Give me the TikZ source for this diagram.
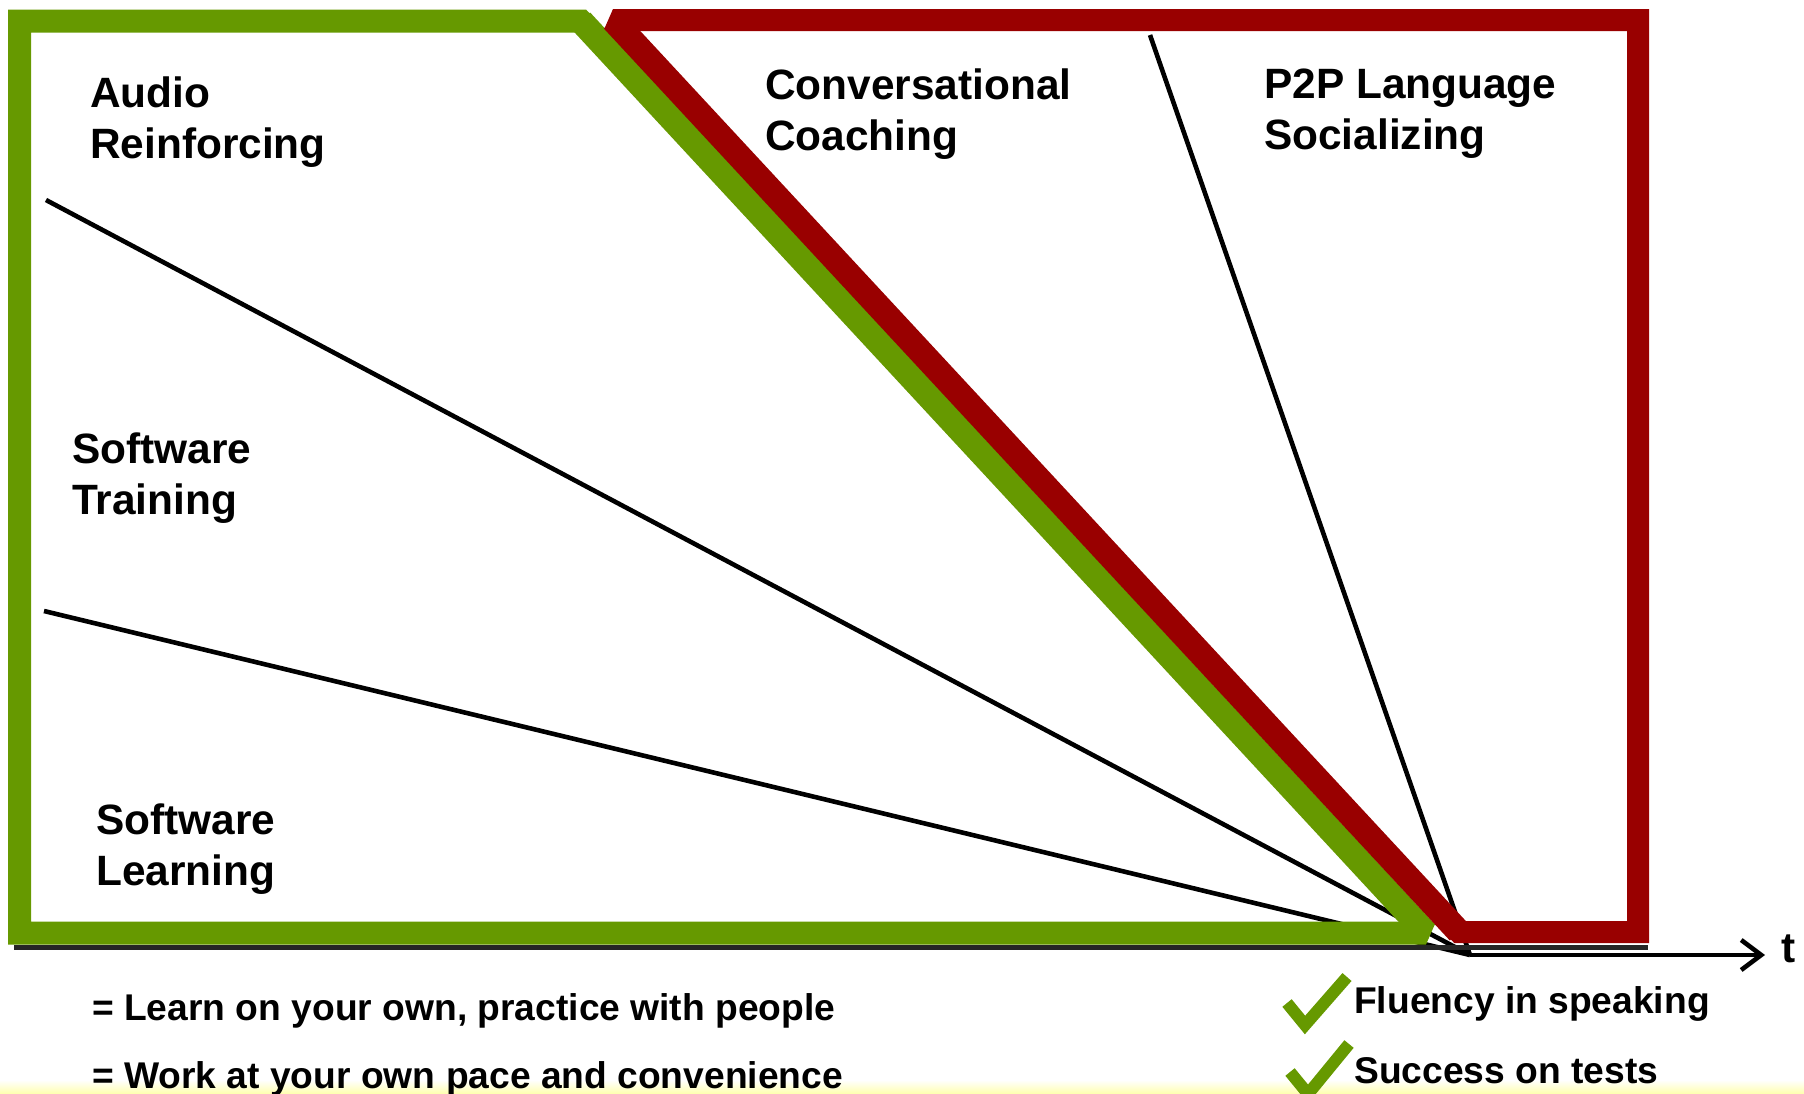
\documentclass[tikz,border=0pt]{standalone}
\usepackage{fontspec}
\setmainfont{Liberation Sans}
\usetikzlibrary{arrows.meta}
\definecolor{lgreen}{RGB}{102,153,0}
\definecolor{lred}{RGB}{153,0,0}
\begin{document}
\begin{tikzpicture}[x=1pt,y=-1pt,
  big/.style={font=\fontsize{42.4}{51}\selectfont\bfseries, inner sep=0pt, align=left, anchor=north west},
  small/.style={font=\fontsize{37.2}{44}\selectfont\bfseries, inner sep=0pt, anchor=base west},
  greenbar/.style={draw=lgreen, line width=23pt, line join=miter, miter limit=2},
  redbar/.style={draw=lred, line width=22pt, line join=miter, miter limit=2},
  ray/.style={draw=black, line width=4.6pt},
  shadowline/.style={draw=black!85, line width=5pt},
  axisline/.style={draw=black, line width=4.6pt, -{Straight Barb[length=20pt,width=30pt,line width=4.6pt]}},
  tick/.style={draw=lgreen, line width=12pt, line join=miter}]
\useasboundingbox (0,0) rectangle (1804,1093);
\shade[top color=white, bottom color=yellow!30] (0,1080) rectangle (1804,1093);
% rays
\coordinate (O) at (1470,955);
\coordinate (r1) at (46,200);
\coordinate (r2) at (44,611);
\coordinate (r3) at (1150,35);
\coordinate (tend) at (1765,955);
\draw[ray] (r1) -- (O);
\draw[ray] (r2) -- (O);
\draw[ray] (r3) -- (O);
% shadow under frames
\draw[shadowline] (14,947) -- (1648,947);
% frames
\draw[greenbar, line width=25pt] (581,21) -- (1426,933);
\draw[greenbar] (1426,933) -- (19.5,933) -- (19.5,21) -- (581,21) -- cycle;
\draw[redbar, line width=25pt] (1459,932) -- (613,20);
\draw[redbar] (613,20) -- (1638,20) -- (1638,932) -- (1459,932) -- cycle;
% axis
\draw[axisline] (O) -- (tend);
\node[font=\fontsize{42.4}{51}\selectfont\bfseries, inner sep=0pt, anchor=base west] (t) at (1781,962) {t};
% labels
\node[big] (audio) at (90,77) {Audio\\Reinforcing};
\node[big] (swt) at (72,433) {Software\\Training};
\node[big] (swl) at (96,804) {Software\\Learning};
\node[big] (conv) at (765,69) {Conversational\\Coaching};
\node[big] (p2p) at (1264,69) {P2P Language\\Socializing};
\node[small] (own) at (92,1020) {= Learn on your own, practice with people};
\node[small] (pace) at (92,1088) {= Work at your own pace and convenience};
\node[small] (flu) at (1354,1013) {Fluency in speaking};
\node[small] (suc) at (1354,1083) {Success on tests};
% check marks
\draw[tick] (1287,1003) -- (1305,1025) -- (1347,977);
\draw[tick] (1290,1072) -- (1308,1094) -- (1349,1044);
\end{tikzpicture}
\end{document}
